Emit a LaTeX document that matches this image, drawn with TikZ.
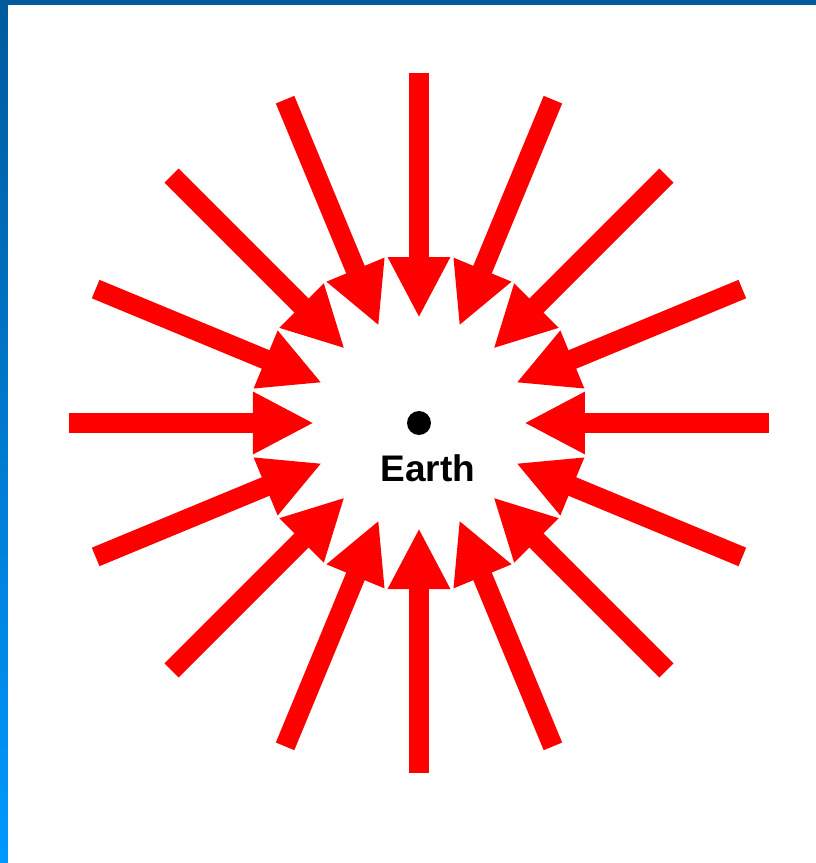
\documentclass[tikz,border=0pt]{standalone}
\usepackage{fontspec}
\setmainfont{Liberation Sans}
\usetikzlibrary{arrows.meta, positioning}
\definecolor{slideblue}{HTML}{005A9E}
\definecolor{slidelight}{HTML}{0099FF}
\definecolor{rayred}{HTML}{FF0000}
\tikzset{ray/.style={draw=rayred, line width=20pt, -{Triangle[length=61pt, width=58pt]}}}

\begin{document}
\begin{tikzpicture}[x=1pt, y=1pt]
	% Frame and background:
	\useasboundingbox (-419, -440) rectangle (397, 423);
	\fill[white] (-419, -440) rectangle (397, 423);
	\shade[top color=slideblue, bottom color=slidelight] (-419, -440) rectangle (-411, 423);
	\fill[slideblue] (-419, 418) rectangle (397, 423);
	% Earth and its label:
	\node[shape=circle, fill=black, minimum size=24pt, inner sep=0pt] (earth) at (0, 0){};
	\node[anchor=center, font=\fontsize{37}{44}\selectfont\bfseries] (label) at (9, -45){Earth};
	% Rays:
	\foreach \i in {0,...,15}{
		\coordinate (tail\i) at (\i*22.5:350pt);
		\coordinate (tip\i) at (\i*22.5:105pt);
		\draw[ray] (tail\i) -- (tip\i);
	}
\end{tikzpicture}
\end{document}
